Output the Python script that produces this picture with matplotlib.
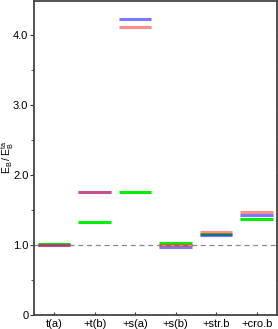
import matplotlib
matplotlib.use("Agg")
import matplotlib.pyplot as plt
from matplotlib.ticker import MultipleLocator, FixedLocator

plt.rcParams['font.family'] = ['Liberation Sans', 'DejaVu Sans']

categories = ['t(a)', '+t(b)', '+s(a)', '+s(b)', '+str.b', '+cro.b']
green_vals = [1.01, 1.32, 1.75, 1.02, 1.16, 1.365]
red_vals = [1.0, 1.75, 4.12, 0.995, 1.185, 1.475]
blue_vals = [0.995, 1.75, 4.23, 0.97, 1.14, 1.42]

fig = plt.figure(figsize=(2.78, 3.29), dpi=100)
ax = fig.add_axes([0.122, 0.043, 0.874, 0.955])

half = 0.4
ax.axhline(1.0, color='#888888', lw=0.9, ls=(0, (4, 3)), zorder=1)
for i in range(len(categories)):
    ax.hlines(green_vals[i], i - half, i + half, color='#00ee00', lw=2.2, zorder=2)
    ax.hlines(blue_vals[i], i - half, i + half, color='#2020ff', alpha=0.6, lw=2.2, zorder=3)
    ax.hlines(red_vals[i], i - half, i + half, color='#ff3030', alpha=0.55, lw=2.2, zorder=4)

ax.set_xlim(-0.5, len(categories) - 0.5)
ax.set_ylim(0, 4.49)
ax.set_xticks(range(len(categories)))
ax.set_xticklabels(categories, fontsize=8)
ax.yaxis.set_major_locator(FixedLocator([0, 1, 2, 3, 4]))
ax.set_yticklabels(['0', '1.0', '2.0', '3.0', '4.0'], fontsize=8)
ax.yaxis.set_minor_locator(MultipleLocator(0.5))
ax.tick_params(axis='y', which='both', direction='out', right=True, color='#333333')
ax.tick_params(axis='y', which='major', length=3, pad=1)
ax.tick_params(axis='y', which='minor', length=2)
ax.tick_params(axis='x', direction='in', length=2.5, pad=3, color='#333333')
for s in ax.spines.values():
    s.set_color('#444444')
    s.set_linewidth(1.3)

ax.set_ylabel(r'$\mathregular{E_B\,/\,E_B^{ta}}$', fontsize=7.5)
ax.yaxis.set_label_coords(-0.072, 0.5)

fig.savefig('out.png', dpi=100)
